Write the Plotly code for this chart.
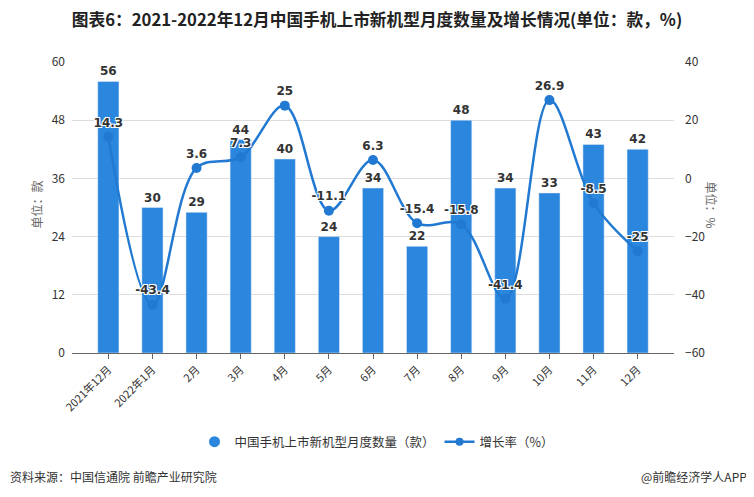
import plotly.graph_objects as go

categories = ["2021年12月", "2022年1月", "2月", "3月", "4月", "5月", "6月", "7月", "8月", "9月", "10月", "11月", "12月"]
counts = [56, 30, 29, 44, 40, 24, 34, 22, 48, 34, 33, 43, 42]
growth = [14.3, -43.4, 3.6, 7.3, 25, -11.1, 6.3, -15.4, -15.8, -41.4, 26.9, -8.5, -25]

bar_color = "#2B86DE"
line_color = "#2179D2"
shadow = "1px 1px 0 #fff, -1px -1px 0 #fff, 1px -1px 0 #fff, -1px 1px 0 #fff"

OFF = 8  # page body offset
W, H = 754 - OFF, 497 - OFF
PL, PR, PT, PB = 72, 674, 62, 353  # plot area in window pixels


def px(wx):
    return (wx - PL) / (PR - PL)


def py(wy):
    return (PB - wy) / (PB - PT)


fig = go.Figure()
fig.add_trace(go.Bar(
    x=categories, y=counts, marker_color=bar_color, showlegend=False,
    text=[str(v) for v in counts], textposition="outside", cliponaxis=False,
    textfont=dict(family="DejaVu Sans", size=12, color="#333", weight="bold"),
    hoverinfo="skip"))
fig.add_trace(go.Scatter(
    x=categories, y=growth, yaxis="y2", mode="lines+markers+text",
    line=dict(color=line_color, width=2.5, shape="spline", smoothing=1.0),
    marker=dict(size=10, color=line_color), showlegend=False,
    text=[f"{v:g}" for v in growth], textposition="top center", cliponaxis=False,
    textfont=dict(family="DejaVu Sans", size=12, color="#333", weight="bold", shadow=shadow)))

# legend entries
fig.add_trace(go.Scatter(x=[None], y=[None], mode="markers", name="中国手机上市新机型月度数量（款）",
                         marker=dict(symbol="circle", size=11, color=bar_color)))
fig.add_trace(go.Scatter(x=[None], y=[None], mode="lines+markers", name="增长率（%）",
                         line=dict(color=line_color, width=2.5), marker=dict(size=8, color=line_color)))

fig.update_layout(
    width=W, height=H,
    margin=dict(l=PL - OFF, r=W - (PR - OFF), t=PT - OFF, b=H - (PB - OFF), autoexpand=False),
    paper_bgcolor="white", plot_bgcolor="white",
    font=dict(family="Noto Sans CJK SC, DejaVu Sans", size=12, color="#333"),
    title=dict(text="<b>图表6：2021-2022年12月中国手机上市新机型月度数量及增长情况(单位：款，%)</b>",
               x=(377 - OFF) / W, xanchor="center", y=1 - (20 - OFF) / H, yanchor="middle",
               font=dict(size=16.7, color="#222")),
    bargap=0.52,
    xaxis=dict(type="category", tickangle=-45, showline=True, linecolor="#666", linewidth=1,
               ticks="outside", ticklen=5, tickcolor="#666", showgrid=False, automargin=False,
               tickfont=dict(size=11, color="#333")),
    yaxis=dict(range=[0, 60], tickvals=[0, 12, 24, 36, 48, 60], showgrid=True, gridcolor="#DDDDDD",
               zeroline=False, tickfont=dict(size=12, color="#333"), ticks="", ticklabelstandoff=6,
               automargin=False),
    yaxis2=dict(range=[-60, 40], tickvals=[-60, -40, -20, 0, 20, 40], overlaying="y", side="right",
                showgrid=False, zeroline=False, tickfont=dict(size=12, color="#333"), ticklabelstandoff=10,
                automargin=False),
    legend=dict(orientation="h", x=px(377), xanchor="center", y=py(442), yanchor="middle",
                font=dict(size=12.5, color="#333"), itemwidth=30),
)

fig.add_annotation(text="单位：款", xref="paper", yref="paper", x=px(25), y=py(205),
                   textangle=-90, showarrow=False, font=dict(size=12, color="#666"))
fig.add_annotation(text="单位：%", xref="paper", yref="paper", x=px(722), y=py(205),
                   textangle=90, showarrow=False, font=dict(size=12, color="#666"))
fig.add_annotation(text="资料来源：中国信通院 前瞻产业研究院", xref="paper", yref="paper",
                   x=px(8), xanchor="left", y=py(476), yanchor="middle",
                   showarrow=False, font=dict(size=12, color="#333"))
fig.add_annotation(text="@前瞻经济学人APP", xref="paper", yref="paper",
                   x=px(749), xanchor="right", y=py(476), yanchor="middle",
                   showarrow=False, font=dict(size=12, color="#333"))

fig.write_html("out.html")
